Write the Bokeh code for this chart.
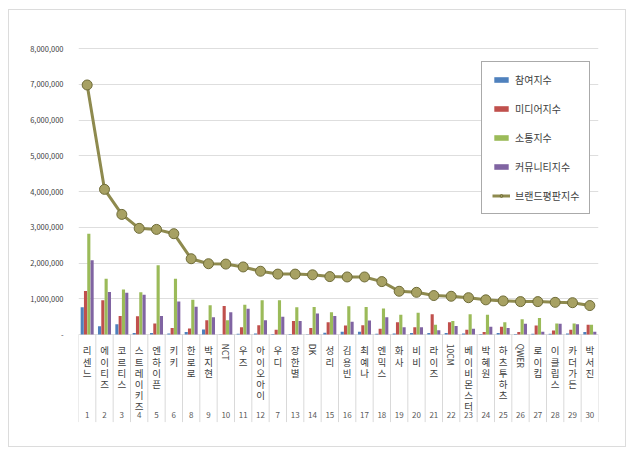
import numpy as np
from bokeh.plotting import figure
from bokeh.models import Range1d, FixedTicker, NumeralTickFormatter
from bokeh.core.properties import value
from bokeh.embed import file_html
from bokeh.resources import INLINE

# brand reputation, singers - ranked by position on the chart
names = ["리센느", "에이티즈", "코르티스", "스트레이키즈", "엔하이픈", "키키", "한로로", "박지현",
         "NCT", "우즈", "아이오아이", "우디", "장한별", "DK", "성리", "김용빈", "최예나", "엔믹스",
         "화사", "비비", "라이즈", "10CM", "베이비몬스터", "박혜원", "하츠투하츠", "QWER",
         "로이킴", "이클립스", "카더가든", "박서진"]
ranks = ["1", "2", "3", "4", "5", "6", "8", "9", "10", "11", "12", "7", "13", "14", "15",
         "16", "17", "18", "19", "20", "21", "22", "23", "24", "25", "26", "27", "28", "29", "30"]

participation = [760000, 230000, 290000, 40000, 40000, 30000, 70000, 140000, 10000, 20000,
                 30000, 15000, 15000, 10000, 50000, 80000, 80000, 20000, 30000, 40000,
                 40000, 40000, 30000, 15000, 40000, 15000, 20000, 20000, 30000, 70000]
media = [1220000, 960000, 520000, 510000, 310000, 180000, 170000, 400000, 800000, 200000,
         260000, 130000, 380000, 180000, 340000, 250000, 260000, 160000, 340000, 200000,
         570000, 340000, 130000, 70000, 220000, 70000, 250000, 110000, 130000, 270000]
communication = [2820000, 1560000, 1260000, 1180000, 1940000, 1560000, 970000, 820000, 400000, 830000,
                 960000, 960000, 760000, 770000, 620000, 790000, 770000, 730000, 550000, 610000,
                 270000, 380000, 570000, 550000, 340000, 430000, 460000, 310000, 310000, 270000]
community = [2080000, 1190000, 1170000, 1110000, 520000, 920000, 780000, 480000, 620000, 720000,
             400000, 500000, 380000, 590000, 520000, 360000, 390000, 480000, 200000, 200000,
             120000, 240000, 160000, 220000, 180000, 300000, 80000, 300000, 290000, 80000]
brand = [6980000, 4060000, 3360000, 2970000, 2940000, 2820000, 2120000, 1980000, 1970000, 1890000,
         1770000, 1690000, 1690000, 1670000, 1620000, 1610000, 1610000, 1480000, 1210000, 1180000,
         1090000, 1070000, 1030000, 970000, 940000, 920000, 920000, 900000, 890000, 810000]

FONT = "Noto Sans CJK KR"
x = np.arange(1, len(names) + 1)

p = figure(width=618, height=438, output_backend="svg", toolbar_location=None,
           x_range=Range1d(0.5, len(names) + 0.5), y_range=Range1d(-2573000, 8196000),
           min_border_left=69, min_border_right=29, min_border_top=31, min_border_bottom=22,
           styles={"border": "1px solid #dcdcdc", "margin": "9px 0 0 8px"})
p.outline_line_color = None
p.xaxis.visible = False
p.xgrid.visible = False

ticks = [0, 1000000, 2000000, 3000000, 4000000, 5000000, 6000000, 7000000, 8000000]
p.yaxis.ticker = FixedTicker(ticks=ticks)
p.ygrid.ticker = FixedTicker(ticks=ticks)
p.ygrid.grid_line_color = "#dedede"
p.yaxis.formatter = NumeralTickFormatter(format="0,0")
p.yaxis.major_label_overrides = {0: "-"}
p.yaxis.axis_line_color = None
p.yaxis.major_tick_line_color = None
p.yaxis.minor_tick_line_color = None
p.yaxis.major_label_text_font = FONT
p.yaxis.major_label_text_font_size = "7.5px"
p.yaxis.major_label_text_color = "#404040"
p.yaxis.major_label_standoff = 9

# category separators under the baseline
bounds = np.arange(0.5, len(names) + 1)
p.segment(x0=bounds, y0=0, x1=bounds, y1=-2450000, line_color="#d9d9d9", line_width=1)

# grouped bars
w = 0.19
series = [(participation, "#4f81bd", "참여지수"), (media, "#c0504d", "미디어지수"),
          (communication, "#9bbb59", "소통지수"), (community, "#8064a2", "커뮤니티지수")]
for i, (vals, col, lab) in enumerate(series):
    p.vbar(x=x + (i - 1.5) * w, top=vals, bottom=0, width=w * 0.95,
           fill_color=col, line_color=None, legend_label=lab)

p.line(x, brand, line_color="#8e8a4e", line_width=3, legend_label="브랜드평판지수")
p.scatter(x, brand, size=10, fill_color="#a7a163", line_color="#6f6c38", line_width=1,
          legend_label="브랜드평판지수")

# category labels: hangul stacked, latin rotated
kor = [i for i, n in enumerate(names) if not n.isascii()]
lat = [i for i, n in enumerate(names) if n.isascii()]
p.text(x=[x[i] for i in kor], y=-250000, text=["\n".join(names[i]) for i in kor],
       text_align="center", text_baseline="top", text_line_height=0.8,
       text_font=value(FONT), text_font_size="9.5px", text_color="#404040")
p.text(x=[x[i] for i in lat], y=-260000, text=[names[i] for i in lat], angle=-np.pi / 2,
       text_align="left", text_baseline="middle",
       text_font=value(FONT), text_font_size="8.5px", text_color="#404040")
p.text(x=x, y=-2240000, text=ranks, text_align="center", text_baseline="middle",
       text_font=value(FONT), text_font_size="8px", text_color="#595959")

p.legend.location = (403, 212)
p.legend.label_text_font = FONT
p.legend.label_text_font_size = "10px"
p.legend.label_text_color = "#404040"
p.legend.border_line_color = "#555555"
p.legend.border_line_width = 1
p.legend.background_fill_alpha = 1
p.legend.glyph_width = 18
p.legend.glyph_height = 7
p.legend.label_height = 12
p.legend.spacing = 14
p.legend.padding = 10
p.legend.margin = 0

open("out.html", "w").write(file_html(p, INLINE))
